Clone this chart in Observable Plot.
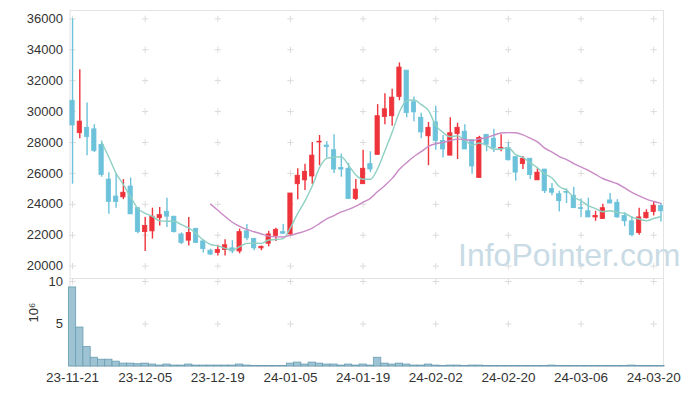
<!DOCTYPE html>
<html><head><meta charset="utf-8">
<script src="https://cdn.jsdelivr.net/npm/d3@7"></script>
<script src="https://cdn.jsdelivr.net/npm/@observablehq/plot@0.6"></script>
<style>
body{margin:0;background:#fff;}
#wrap{position:relative;width:693px;height:396px;overflow:hidden;}
#wrap svg{display:block;overflow:visible;}
#wrap svg.vol{margin-top:-8px;}
#wm{position:absolute;left:458px;top:239px;font:32px/32px "Liberation Sans",Arial,sans-serif;color:#c9dbe5;white-space:nowrap;pointer-events:none;}
</style></head><body><div id="wrap"></div>
<script>
const dates = ["23-11-21","23-11-22","23-11-23","23-11-24","23-11-27","23-11-28","23-11-29","23-11-30",
"23-12-01","23-12-04","23-12-05","23-12-06","23-12-07","23-12-08","23-12-11","23-12-12","23-12-13","23-12-14","23-12-15","23-12-18","23-12-19","23-12-20","23-12-21","23-12-22","23-12-26","23-12-27","23-12-28",
"24-01-02","24-01-03","24-01-04","24-01-05","24-01-08","24-01-09","24-01-10","24-01-11","24-01-12","24-01-15","24-01-16","24-01-17","24-01-18","24-01-19","24-01-22","24-01-23","24-01-24","24-01-25","24-01-26","24-01-29","24-01-30","24-01-31",
"24-02-01","24-02-02","24-02-05","24-02-06","24-02-07","24-02-08","24-02-13","24-02-14","24-02-15","24-02-16","24-02-19","24-02-20","24-02-21","24-02-22","24-02-23","24-02-26","24-02-27","24-02-28","24-02-29",
"24-03-04","24-03-05","24-03-06","24-03-07","24-03-08","24-03-11","24-03-12","24-03-13","24-03-14","24-03-15","24-03-18","24-03-19","24-03-20","24-03-21"];
const open  = [30700,28600,28950,28850,27850,25600,24500,24450,25150,23750,22200,22250,23100,23500,23200,22050,21650,22400,21600,21000,20850,21050,21150,20950,22250,21750,21150,21450,21950,22200,22050,25300,25550,25800,28000,27800,27500,26350,26300,24350,25300,26600,27200,29650,29700,30950,32650,30600,29600,28400,29300,28100,27150,28550,28700,28150,25700,28500,28250,27600,27650,27050,26600,26950,25550,26250,25000,24650,24800,24550,23750,23550,23150,23050,24250,24100,23250,22900,22150,23100,23500,23900];
const high  = [36000,32700,30550,29150,28100,26050,26000,25600,25700,23800,23150,23750,23800,24400,23200,22150,23150,22450,21700,21100,21350,21700,21650,22400,22700,21800,21300,22250,22450,22700,24700,26300,26600,28000,28450,28050,28500,27250,26650,25600,27500,27400,30450,31150,31450,33150,32650,30950,29900,29300,30350,28450,29600,29250,29150,28150,28400,28500,28850,28500,28000,27050,27100,26950,26300,26250,25350,24850,25000,25100,24350,24400,23550,24000,24700,24300,23450,23200,23750,23650,24150,24050];
const low   = [25300,28250,27150,27350,25750,23350,23750,24300,23350,22100,20950,21750,22600,22500,22150,21400,21300,21500,20850,20700,20650,20650,20800,20800,21650,21000,21000,21250,21600,22050,22000,24300,24900,25300,26500,27000,26000,25750,24300,24250,25300,26050,27200,29150,29050,30700,29600,29350,28250,26500,27500,27000,27150,26900,27550,25950,25700,27400,27350,27400,26800,25500,26250,25600,25550,24700,24550,23500,24050,23750,23150,23150,22900,23050,24050,23100,22550,21900,22000,23050,23250,22850];
const close = [29100,29350,28350,27450,25900,24150,24150,24750,23350,22200,22600,23200,23300,23200,22200,21500,22150,21500,21100,20750,21050,21350,20950,22200,21800,21150,21250,22050,22350,22100,24700,25850,26100,27150,28050,27700,26250,26250,24350,24950,26300,26250,29700,30150,30900,32850,29900,29950,28650,28950,28100,27550,28600,28950,27550,26450,28300,27850,27650,27650,26850,26050,26950,25900,26050,24850,24750,24200,24750,23750,23700,23150,23250,23750,24050,23150,22900,22000,23150,23450,23900,23550];
const volume = [9300000,4580000,2290000,1030000,800000,800000,570000,340000,340000,270000,340000,230000,110000,230000,110000,110000,230000,110000,110000,110000,110000,110000,110000,230000,110000,50000,50000,50000,50000,50000,340000,460000,230000,460000,340000,230000,230000,110000,230000,110000,230000,110000,1030000,340000,230000,340000,230000,110000,110000,230000,110000,50000,110000,110000,50000,110000,110000,50000,50000,50000,50000,50000,50000,50000,50000,50000,110000,50000,50000,50000,50000,50000,50000,50000,50000,50000,50000,110000,50000,50000,50000,50000];
const tickDates = ["23-11-21","23-12-05","23-12-19","24-01-05","24-01-19","24-02-02","24-02-20","24-03-06","24-03-20"];
const priceTicks = [20000,22000,24000,26000,28000,30000,32000,34000,36000];
const volTicks = [5,10];

const RED = "#ee333b", BLUE = "#6cc2da", MA5 = "#8dd0c2", MA20 = "#c98bc6";
const rows = dates.map((d, i) => ({date: d, open: open[i], high: high[i], low: low[i], close: close[i], volume: volume[i]}));
const col = d => d.close >= d.open ? RED : BLUE;
const font = "'Liberation Sans', Arial, sans-serif";
const xBase = {type: "band", domain: dates, paddingInner: 0.3, paddingOuter: 0, round: false};

const priceGrid = tickDates.flatMap(x => priceTicks.map(y => ({x, y})));
const volGrid = tickDates.flatMap(x => volTicks.map(y => ({x, y})));

const price = Plot.plot({
  width: 693, height: 278, marginTop: 10, marginBottom: 0, marginLeft: 69.5, marginRight: 30,
  style: {fontFamily: font, fontSize: "13px", color: "#333", background: "transparent"},
  x: {...xBase, axis: null},
  y: {domain: [19200, 36540], axis: null},
  marks: [
    Plot.frame({stroke: "#e3e3e3"}),
    Plot.dot(priceGrid, {x: "x", y: "y", symbol: "plus", r: 2.2, stroke: "#dcdcdc", strokeWidth: 1}),
    Plot.axisY(priceTicks, {tickSize: 0, tickPadding: 7, tickFormat: d => String(d), fill: "#333"}),
    Plot.ruleX(rows, {x: "date", y1: "low", y2: "high", stroke: col, strokeWidth: 1.4}),
    Plot.barY(rows, {x: "date", y1: "open", y2: "close", fill: col, stroke: col, strokeWidth: 0.8, insetLeft: 0.4, insetRight: 0.4}),
    Plot.lineY(rows, Plot.windowY({k: 5, anchor: "end", strict: true}, {x: "date", y: "close", stroke: MA5, strokeWidth: 1.4, curve: "monotone-x"})),
    Plot.lineY(rows, Plot.windowY({k: 20, anchor: "end", strict: true}, {x: "date", y: "close", stroke: MA20, strokeWidth: 1.4, curve: "monotone-x"}))
  ]
});

const vol = Plot.plot({
  width: 693, height: 126, marginTop: 8, marginBottom: 30, marginLeft: 69.5, marginRight: 30,
  className: "vol",
  style: {fontFamily: font, fontSize: "13px", color: "#333", background: "transparent"},
  x: {...xBase},
  y: {domain: [0, 10.35]},
  marks: [
    Plot.frame({stroke: "#e3e3e3"}),
    Plot.dot(volGrid, {x: "x", y: "y", symbol: "plus", r: 2.2, stroke: "#dcdcdc", strokeWidth: 1}),
    Plot.barY(rows, {x: "date", y: d => d.volume / 1e6, fill: "#9ec4d3", stroke: "#6a9db2", strokeWidth: 0.8, insetLeft: -1.1, insetRight: -1.1}),
    Plot.axisY(volTicks, {tickSize: 0, tickPadding: 7, fill: "#333", label: null}),
    Plot.axisX(tickDates, {tickSize: 0, tickPadding: 6, fill: "#333", label: null, fontSize: 13.5}),
    Plot.text(["10⁶"], {frameAnchor: "left", dx: -36, rotate: -90, fontSize: 13, fill: "#333"})
  ]
});
vol.classList.add("vol");

const wrap = document.getElementById("wrap");
wrap.append(price, vol);
const wm = document.createElement("div");
wm.id = "wm"; wm.textContent = "InfoPointer.com";
wrap.append(wm);
</script></body></html>
